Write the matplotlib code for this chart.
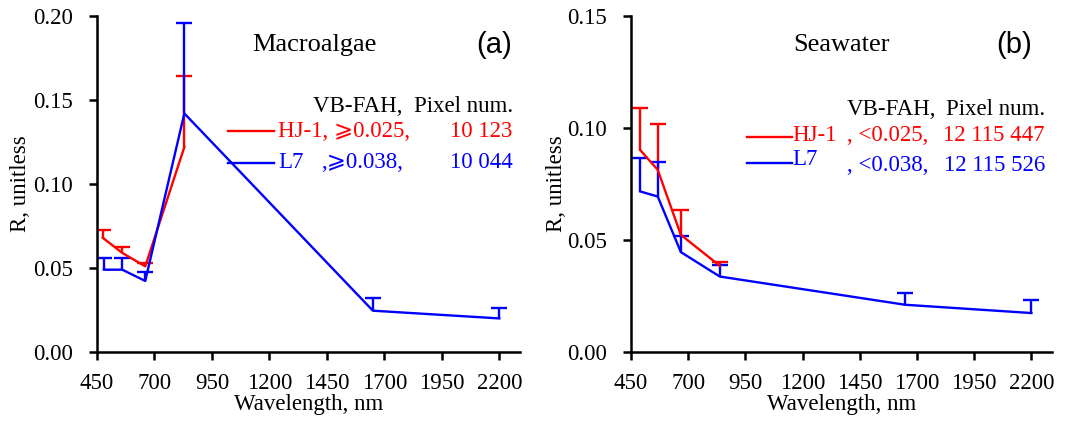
"""Macroalgae vs seawater reflectance, HJ-1 and L7."""
import matplotlib
matplotlib.use("Agg")
import matplotlib.pyplot as plt
import numpy as np

plt.rcParams["font.family"] = ["Liberation Serif", "DejaVu Serif"]
plt.rcParams["font.size"] = 16.5

# panel (a) macroalgae
wl_hj_a = [475, 560, 660, 830]
r_hj_a = [0.068, 0.059, 0.051, 0.122]
up_hj_a = [0.0726, 0.0627, 0.053, 0.164]
wl_l7_a = [480, 560, 660, 830, 1650, 2200]
r_l7_a = [0.049, 0.049, 0.0423, 0.142, 0.0246, 0.020]
up_l7_a = [0.056, 0.056, 0.0478, 0.1956, 0.032, 0.026]

# panel (b) seawater
wl_hj_b = [490, 567, 668, 838]
r_hj_b = [0.0902, 0.0813, 0.0523, 0.0385]
up_hj_b = [0.1091, 0.1017, 0.0632, 0.0401]
wl_l7_b = [490, 567, 668, 838, 1648, 2200]
r_l7_b = [0.0717, 0.0694, 0.0446, 0.0337, 0.0211, 0.0174]
up_l7_b = [0.0865, 0.0847, 0.052, 0.039, 0.0263, 0.0233]

xticks = [450, 700, 950, 1200, 1450, 1700, 1950, 2200]
RED = "#ff0000"
BLUE = "#0000ff"
MATH = ["Liberation Serif", "DejaVu Sans"]


def draw_series(ax, wl, r, up, color):
    err = np.array(up) - np.array(r)
    _, caps, _ = ax.errorbar(wl, r, yerr=[np.zeros_like(err), err], color=color,
                             lw=1.7, elinewidth=1.7, capsize=6, capthick=1.7)
    caps[0].set_visible(False)


fig = plt.figure(figsize=(10.68, 4.23), dpi=100)
ax_a = fig.add_axes([0.0908, 0.1678, 0.3961, 0.7944])
ax_b = fig.add_axes([0.5908, 0.1678, 0.3942, 0.7944])

draw_series(ax_a, wl_hj_a, r_hj_a, up_hj_a, RED)
draw_series(ax_a, wl_l7_a, r_l7_a, up_l7_a, BLUE)
draw_series(ax_b, wl_hj_b, r_hj_b, up_hj_b, RED)
draw_series(ax_b, wl_l7_b, r_l7_b, up_l7_b, BLUE)

for ax, ymax, step, lpad in [(ax_a, 0.20, 0.05, 2), (ax_b, 0.15, 0.05, 0)]:
    ax.set_xlim(450, 2290)
    ax.set_ylim(0, ymax)
    ax.set_xticks(xticks)
    ax.set_yticks(np.arange(0, ymax + 1e-9, step))
    ax.yaxis.set_major_formatter(matplotlib.ticker.FormatStrFormatter("%.2f"))
    ax.spines["top"].set_visible(False)
    ax.spines["right"].set_visible(False)
    ax.spines["left"].set_linewidth(1.8)
    ax.spines["bottom"].set_linewidth(1.8)
    ax.tick_params(direction="out", length=6, width=1.8, labelsize=16.5)
    ax.tick_params(axis="x", pad=9)
    ax.tick_params(axis="y", pad=11)
    ax.set_xlabel("Wavelength, nm", labelpad=0)
    ax.set_ylabel("R, unitless", labelpad=lpad)

# legend text, panel (a)
t = ax_a.transAxes
ax_a.text(0.515, 0.914, "Macroalgae", transform=t, ha="center", va="center", fontsize=19)
ax_a.text(0.938, 0.914, "(a)", transform=t, ha="center", va="center", fontsize=21,
          family="Liberation Sans")
ax_a.text(0.983, 0.732, "VB-FAH,  Pixel num.", transform=t, ha="right", va="center")
ax_a.plot([0.310, 0.418], [0.658, 0.658], transform=t, color=RED, lw=1.7)
ax_a.plot([0.310, 0.418], [0.5625, 0.5625], transform=t, color=BLUE, lw=1.7)
ax_a.text(0.428, 0.655, "HJ-1, \u2a7e0.025,", transform=t, va="center", color=RED,
          family=MATH)
ax_a.text(0.983, 0.655, "10 123", transform=t, ha="right", va="center", color=RED)
ax_a.text(0.428, 0.565, "L7", transform=t, va="center", color=BLUE)
ax_a.text(0.530, 0.565, ",\u2a7e0.038,", transform=t, va="center", color=BLUE,
          family=MATH)
ax_a.text(0.983, 0.565, "10 044", transform=t, ha="right", va="center", color=BLUE)

# legend text, panel (b)
t = ax_b.transAxes
ax_b.text(0.499, 0.914, "Seawater", transform=t, ha="center", va="center", fontsize=19)
ax_b.text(0.910, 0.914, "(b)", transform=t, ha="center", va="center", fontsize=21,
          family="Liberation Sans")
ax_b.text(0.513, 0.722, "VB-FAH,", transform=t, va="center")
ax_b.text(0.983, 0.722, "Pixel num.", transform=t, ha="right", va="center")
ax_b.plot([0.2755, 0.382], [0.640, 0.640], transform=t, color=RED, lw=1.7)
ax_b.plot([0.2755, 0.382], [0.5625, 0.5625], transform=t, color=BLUE, lw=1.7)
ax_b.text(0.384, 0.643, "HJ-1", transform=t, va="center", color=RED)
ax_b.text(0.513, 0.643, ", <0.025,", transform=t, va="center", color=RED)
ax_b.text(0.983, 0.643, "12 115 447", transform=t, ha="right", va="center", color=RED)
ax_b.text(0.384, 0.572, "L7", transform=t, va="center", color=BLUE)
ax_b.text(0.513, 0.556, ", <0.038,", transform=t, va="center", color=BLUE)
ax_b.text(0.983, 0.556, "12 115 526", transform=t, ha="right", va="center", color=BLUE)

plt.savefig("out.png", dpi=100)
